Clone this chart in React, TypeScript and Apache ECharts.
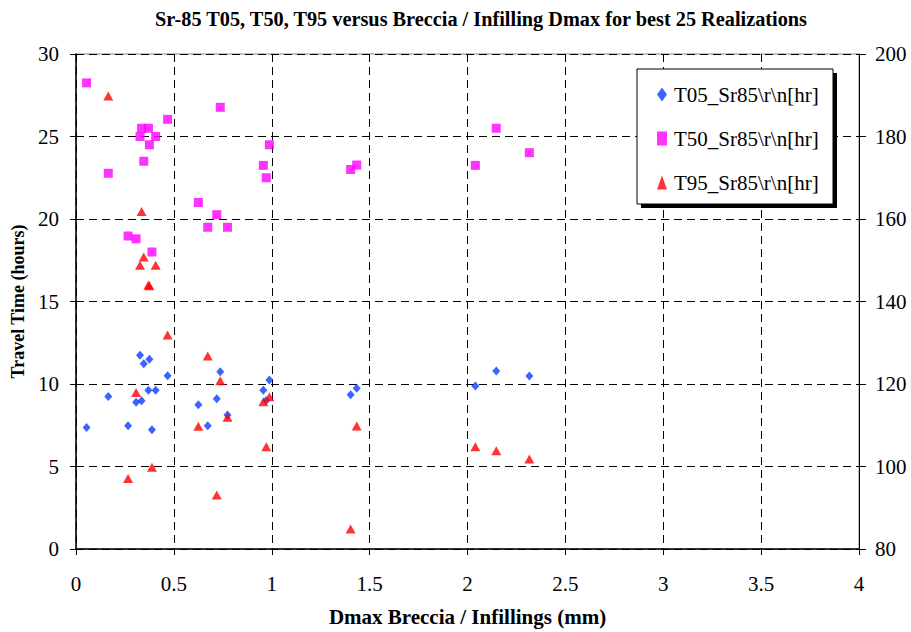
import React, { useEffect, useRef } from "react";
import * as echarts from "echarts";

const dmax = [0.054, 0.165, 0.266, 0.307, 0.327, 0.335, 0.346, 0.37, 0.375, 0.388, 0.407, 0.468, 0.625, 0.673, 0.719, 0.737, 0.774, 0.957, 0.972, 0.988, 1.403, 1.434, 2.04, 2.147, 2.316];
const t05 = [7.37, 9.25, 7.47, 8.89, 11.74, 8.99, 11.23, 9.62, 11.5, 7.23, 9.62, 10.5, 8.75, 7.47, 9.11, 10.75, 8.12, 9.62, 9.0, 10.24, 9.35, 9.74, 9.88, 10.79, 10.48];
const t50 = [28.25, 22.77, 18.97, 18.8, 25.0, 25.5, 23.5, 25.5, 24.5, 18.0, 25.0, 26.04, 21.0, 19.5, 20.26, 26.77, 19.5, 23.25, 22.5, 24.5, 23.0, 23.27, 23.25, 25.5, 24.02];
const t95 = [null, 27.45, 4.28, 9.48, 17.2, 20.45, 17.7, 16.0, 15.95, 4.95, 17.2, 12.97, 7.44, 11.7, 3.27, 10.2, 7.98, 8.93, 6.2, 9.23, 1.21, 7.45, 6.2, 5.96, 5.45];

const seriesNames = ["T05_Sr85\\r\\n[hr]", "T50_Sr85\\r\\n[hr]", "T95_Sr85\\r\\n[hr]"];
const seriesColors = ["#0a3cff", "#ff00ff", "#ff0000"];
const seriesSymbols = ["diamond", "rect", "triangle"];
const seriesSizes = [[8, 9], [9, 9], [10, 9]];

const FONT = '"Liberation Serif", "Times New Roman", serif';

function pairs(ys: (number | null)[]) {
  const out: [number, number][] = [];
  ys.forEach((y, i) => {
    if (y !== null) out.push([dmax[i], y]);
  });
  return out;
}

export default function App() {
  const ref = useRef<HTMLDivElement>(null);
  useEffect(() => {
    if (!ref.current) return;
    const chart = echarts.init(ref.current, null, { renderer: "svg" });
    const allData = [t05, t50, t95];
    chart.setOption({
      animation: false,
      backgroundColor: "#ffffff",
      title: {
        text: "Sr-85 T05, T50, T95 versus Breccia / Infilling Dmax for best 25 Realizations",
        left: 150,
        top: 4,
        textStyle: { fontFamily: FONT, fontWeight: "bold", fontSize: 20.3, color: "#000" },
      },
      grid: {
        left: 76,
        right: 52,
        top: 54,
        bottom: 83,
        show: true,
        borderColor: "#888888",
        borderWidth: 1,
        backgroundColor: "transparent",
      },
      graphic: [
        { type: "rect", z: 5, shape: { x: 641, y: 73, width: 196, height: 135 }, style: { fill: "#000" } },
        { type: "rect", z: 6, shape: { x: 637, y: 69, width: 196, height: 135 }, style: { fill: "#fff", stroke: "#000", lineWidth: 1 } },
      ],
      legend: {
        z: 10,
        orient: "vertical",
        left: 637,
        top: 69,
        padding: [15, 10, 10, 20],
        itemWidth: 10,
        itemHeight: 14,
        itemGap: 23,
        data: seriesNames.map((n, i) => ({
          name: n,
          icon: seriesSymbols[i],
          itemStyle: { color: seriesColors[i] },
        })),
        textStyle: { fontFamily: FONT, fontSize: 21, color: "#000", padding: [0, 0, 0, 2] },
      },
      xAxis: {
        type: "value",
        min: 0,
        max: 4,
        interval: 0.5,
        name: "Dmax Breccia / Infillings (mm)",
        nameLocation: "middle",
        nameGap: 57,
        nameTextStyle: { fontFamily: FONT, fontWeight: "bold", fontSize: 21, color: "#000" },
        axisLine: { show: true, onZero: false, lineStyle: { color: "#000", width: 1.5 } },
        axisTick: { show: true, length: 6, lineStyle: { color: "#000" } },
        axisLabel: { fontFamily: FONT, fontSize: 21, color: "#000", margin: 24 },
        splitLine: { show: true, lineStyle: { color: "#000", type: [8, 5], width: 1 } },
      },
      yAxis: [
        {
          type: "value",
          min: 0,
          max: 30,
          interval: 5,
          position: "left",
          name: "Travel Time (hours)",
          nameLocation: "middle",
          nameGap: 48,
          nameTextStyle: { fontFamily: FONT, fontWeight: "bold", fontSize: 18, color: "#000" },
          axisLine: { show: true, onZero: false, lineStyle: { color: "#000", width: 1.5 } },
          axisTick: { show: true, length: 6, lineStyle: { color: "#000" } },
          axisLabel: { fontFamily: FONT, fontSize: 21, color: "#000", margin: 17 },
          splitLine: { show: true, lineStyle: { color: "#000", type: [8, 5], width: 1 } },
        },
        {
          type: "value",
          min: 80,
          max: 200,
          interval: 20,
          position: "right",
          axisLine: { show: true, onZero: false, lineStyle: { color: "#000", width: 1 } },
          axisTick: { show: true, length: 7, lineStyle: { color: "#000" } },
          axisLabel: { fontFamily: FONT, fontSize: 21, color: "#000", margin: 16 },
          splitLine: { show: false },
        },
      ],
      series: seriesNames.map((n, i) => ({
        name: n,
        type: "scatter",
        yAxisIndex: 0,
        symbol: seriesSymbols[i],
        symbolSize: seriesSizes[i],
        itemStyle: { color: seriesColors[i] },
        data: pairs(allData[i]),
        z: 3,
      })),
    });
    return () => chart.dispose();
  }, []);
  return (
    <div
      ref={ref}
      style={{ position: "fixed", left: 0, top: 0, width: 911, height: 632 }}
    />
  );
}
